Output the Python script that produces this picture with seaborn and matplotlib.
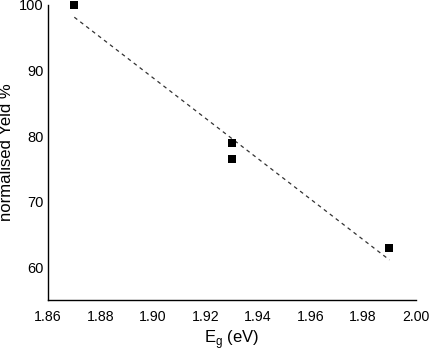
import numpy as np
import pandas as pd
import matplotlib
matplotlib.use("Agg")
import matplotlib.pyplot as plt
import seaborn as sns

eg = [1.87, 1.93, 1.93, 1.99]
yield_pct = [100.0, 79.0, 76.5, 63.0]
xticks = [1.86, 1.88, 1.90, 1.92, 1.94, 1.96, 1.98, 2.00]
yticks = [60, 70, 80, 90, 100]

df = pd.DataFrame({"Eg": eg, "Y": yield_pct})

sns.set_style("white")
plt.rcParams['font.family'] = ['Liberation Sans', 'DejaVu Sans']

fig = plt.figure(figsize=(4.29, 3.51), dpi=100)
ax = fig.add_axes([0.112, 0.145, 0.857, 0.841])

sns.regplot(data=df, x="Eg", y="Y", ax=ax, ci=None, truncate=True, marker="s",
            scatter_kws=dict(s=34, color="black", zorder=3, linewidths=0, alpha=1,
                             clip_on=False),
            line_kws=dict(color="#333333", lw=0.9, linestyle=(0, (3, 3))))

ax.set_xlim(1.86, 2.00)
ax.set_ylim(55, 100)
ax.set_xticks(xticks)
ax.set_xticklabels([f"{t:.2f}" for t in xticks])
ax.set_yticks(yticks)
ax.tick_params(axis='x', length=0, labelsize=10.2, pad=7, colors='black')
ax.tick_params(axis='y', length=0, labelsize=10.5, pad=3, colors='black')
ax.set_xlabel(r"E$_\mathregular{g}$ (eV)", fontsize=12, labelpad=3, color='black')
ax.set_ylabel("normalised Yeld %", fontsize=12, labelpad=4, color='black')
for s in ["top", "right"]:
    ax.spines[s].set_visible(False)
for s in ["left", "bottom"]:
    ax.spines[s].set_color("black")
    ax.spines[s].set_linewidth(1.0)
ax.grid(False)

fig.savefig("out.png", dpi=100)
